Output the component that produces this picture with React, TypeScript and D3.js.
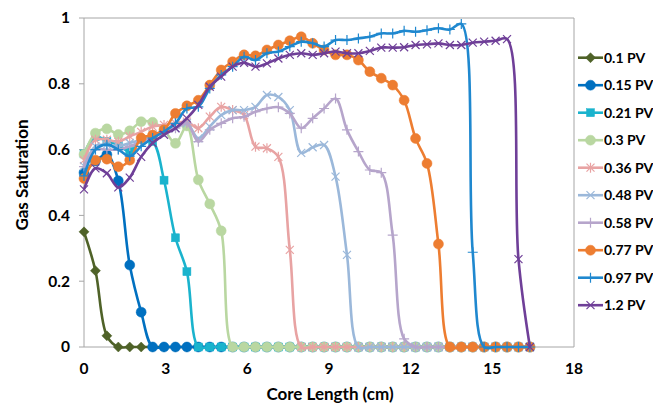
import React from "react";
import * as d3 from "d3";

const STEP = 0.42;
const N = 40;
const xValues: number[] = Array.from({ length: N }, (_, i) => +(i * STEP).toFixed(2));

const zeros = (k: number) => Array(k).fill(0);

const pv010 = [0.35, 0.232, 0.034, ...zeros(37)];
const pv015 = [0.53, 0.565, 0.585, 0.505, 0.249, 0.106, ...zeros(34)];
const pv021 = [0.587, 0.64, 0.625, 0.615, 0.594, 0.63, 0.625, 0.507, 0.332, 0.229, ...zeros(30)];
const pv030 = [0.585, 0.65, 0.663, 0.646, 0.657, 0.685, 0.683, 0.66, 0.619, 0.672, 0.508, 0.435, 0.353, ...zeros(27)];
const pv036 = [0.568, 0.63, 0.63, 0.624, 0.64, 0.654, 0.67, 0.675, 0.68, 0.685, 0.665, 0.7, 0.73, 0.72, 0.705, 0.609, 0.604, 0.578, 0.295, ...zeros(21)];
const pv048 = [0.55, 0.61, 0.615, 0.61, 0.62, 0.63, 0.645, 0.655, 0.665, 0.68, 0.634, 0.67, 0.705, 0.72, 0.72, 0.73, 0.766, 0.76, 0.72, 0.59, 0.607, 0.614, 0.518, 0.28, ...zeros(16)];
const pv058 = [0.548, 0.6, 0.6, 0.6, 0.61, 0.625, 0.64, 0.655, 0.665, 0.68, 0.624, 0.66, 0.68, 0.695, 0.7, 0.715, 0.725, 0.729, 0.71, 0.665, 0.695, 0.725, 0.755, 0.66, 0.594, 0.538, 0.53, 0.34, 0.025, ...zeros(11)];
const pv077 = [0.512, 0.568, 0.571, 0.548, 0.568, 0.635, 0.644, 0.66, 0.71, 0.733, 0.75, 0.796, 0.842, 0.867, 0.888, 0.885, 0.903, 0.918, 0.931, 0.943, 0.923, 0.903, 0.888, 0.888, 0.872, 0.837, 0.817, 0.796, 0.75, 0.634, 0.558, 0.313, ...zeros(8)];
const pv097 = [0.52, 0.6, 0.615, 0.6, 0.58, 0.61, 0.635, 0.655, 0.68, 0.725, 0.73, 0.786, 0.827, 0.852, 0.882, 0.872, 0.893, 0.898, 0.913, 0.928, 0.923, 0.913, 0.933, 0.933, 0.938, 0.943, 0.953, 0.953, 0.961, 0.958, 0.963, 0.969, 0.965, 0.982, 0.288, ...zeros(5)];
const pv120 = [0.479, 0.543, 0.528, 0.485, 0.515, 0.578, 0.62, 0.645, 0.665, 0.695, 0.736, 0.791, 0.822, 0.852, 0.864, 0.852, 0.862, 0.877, 0.888, 0.893, 0.888, 0.893, 0.898, 0.893, 0.893, 0.9, 0.91, 0.91, 0.911, 0.918, 0.92, 0.923, 0.918, 0.918, 0.925, 0.928, 0.931, 0.936, 0.267, 0];

const seriesNames = ["0.1 PV", "0.15 PV", "0.21 PV", "0.3 PV", "0.36 PV", "0.48 PV", "0.58 PV", "0.77 PV", "0.97 PV", "1.2 PV"];
const seriesValues = [pv010, pv015, pv021, pv030, pv036, pv048, pv058, pv077, pv097, pv120];
const seriesColors = ["#4F6228", "#0070C0", "#1AB3CD", "#B9D7A1", "#E8A3A3", "#9BB8DA", "#B6A5CB", "#ED7D31", "#1F88CF", "#6F3F98"];
const seriesMarkers = ["diamond", "circle", "square", "circle", "asterisk", "cross", "plus", "circle", "plus", "cross"];

const yTicks = [0, 0.2, 0.4, 0.6, 0.8, 1];
const xTicks = [0, 3, 6, 9, 12, 15, 18];

const FONT = "Lato, 'Open Sans', sans-serif";

function Marker({ type, x, y, color }: { type: string; x: number; y: number; color: string }) {
  switch (type) {
    case "diamond":
      return <path d={`M${x},${y - 5}L${x + 5},${y}L${x},${y + 5}L${x - 5},${y}Z`} fill={color} stroke={color} strokeWidth={0.5} />;
    case "circle":
      return <circle cx={x} cy={y} r={5} fill={color} stroke={color} strokeWidth={0.5} />;
    case "square":
      return <rect x={x - 4} y={y - 4} width={8} height={8} fill={color} stroke={color} strokeWidth={0.5} />;
    case "asterisk":
      return (
        <path
          d={`M${x - 4},${y - 4}L${x + 4},${y + 4}M${x - 4},${y + 4}L${x + 4},${y - 4}M${x},${y - 5}L${x},${y + 5}`}
          stroke={color}
          strokeWidth={1.2}
          fill="none"
        />
      );
    case "cross":
      return <path d={`M${x - 4},${y - 4}L${x + 4},${y + 4}M${x - 4},${y + 4}L${x + 4},${y - 4}`} stroke={color} strokeWidth={1.2} fill="none" />;
    case "plus":
      return <path d={`M${x - 5},${y}L${x + 5},${y}M${x},${y - 5}L${x},${y + 5}`} stroke={color} strokeWidth={1.2} fill="none" />;
    default:
      return null;
  }
}

export default function App() {
  const W = 653;
  const H = 405;
  const x = d3.scaleLinear().domain([0, 18]).range([84, 574]);
  const y = d3.scaleLinear().domain([0, 1]).range([347, 18]);
  const line = d3
    .line<number>()
    .x((_, i) => x(xValues[i]))
    .y((d) => y(d))
    .curve(d3.curveCatmullRom.alpha(0.5));

  const [x0, x1] = x.range();
  const [y0, y1] = y.range();

  return (
    <svg width={W} height={H} style={{ position: "fixed", left: 0, top: 0, background: "#fff" }} fontFamily={FONT}>
      <rect width={W} height={H} fill="#fff" />
      <path d={`M${x0},${y1}H${x1}V${y0}`} stroke="#A6A6A6" strokeWidth={1} fill="none" />
      <line x1={x0} x2={x1} y1={y0} y2={y0} stroke="#A6A6A6" strokeWidth={1} />
      <line x1={x0} x2={x0} y1={y1} y2={y0} stroke="#A6A6A6" strokeWidth={1} />
      {yTicks.map((t) => (
        <g key={"y" + t}>
          <line x1={x0 - 5} x2={x0} y1={y(t)} y2={y(t)} stroke="#A6A6A6" />
          <text x={70} y={y(t)} dy="0.35em" textAnchor="end" fontSize={15.5} fontWeight="bold" fill="#000">
            {String(t)}
          </text>
        </g>
      ))}
      {xTicks.map((t) => (
        <text key={"x" + t} x={x(t)} y={374} textAnchor="middle" fontSize={15.5} fontWeight="bold" fill="#000">
          {String(t)}
        </text>
      ))}
      <text x={330} y={400} textAnchor="middle" fontSize={17} fontWeight="bold" fill="#000">
        Core Length (cm)
      </text>
      <text transform="translate(28,175) rotate(-90)" textAnchor="middle" fontSize={17} fontWeight="bold" fill="#000">
        Gas Saturation
      </text>
      {seriesValues.map((vals, si) => (
        <g key={"s" + si}>
          <path d={line(vals) || ""} fill="none" stroke={seriesColors[si]} strokeWidth={2.6} strokeLinejoin="round" />
          {vals.map((v, i) => (
            <Marker key={i} type={seriesMarkers[si]} x={x(xValues[i])} y={y(v)} color={seriesColors[si]} />
          ))}
        </g>
      ))}
      {seriesNames.map((name, si) => {
        const ly = 57.7 + si * 27.5;
        return (
          <g key={"l" + si}>
            <line x1={578} x2={603} y1={ly} y2={ly} stroke={seriesColors[si]} strokeWidth={2.6} />
            <Marker type={seriesMarkers[si]} x={590.5} y={ly} color={seriesColors[si]} />
            <text x={604} y={ly} dy="0.35em" fontSize={14} fontWeight="bold" fill="#000">
              {name}
            </text>
          </g>
        );
      })}
    </svg>
  );
}
